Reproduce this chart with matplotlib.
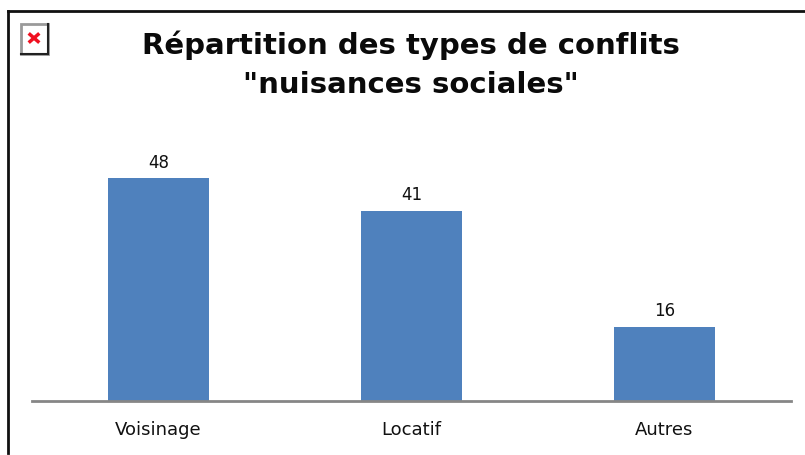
import matplotlib
matplotlib.use('Agg')
import matplotlib.pyplot as plt
from matplotlib.patches import Rectangle
from matplotlib.lines import Line2D

categories = ['Voisinage', 'Locatif', 'Autres']
values = [48, 41, 16]
title = 'Répartition des types de conflits\n"nuisances sociales"'

W, H = 805, 455
plt.rcParams['font.family'] = ['DejaVu Sans']
fig = plt.figure(figsize=(W / 100, H / 100), dpi=100)

# Plot area in pixels from the reference
ax = fig.add_axes([32 / W, 1 - 400.5 / H, (791 - 32) / W, 277.5 / H])
bars = ax.bar(categories, values, width=0.403, color='#4f81bd')
ax.set_xlim(-0.5, 2.5)
ax.set_ylim(0, 60)
ax.bar_label(bars, padding=5, fontsize=12, color='#111111')

for side in ['top', 'left', 'right']:
    ax.spines[side].set_visible(False)
ax.spines['bottom'].set_color('#868686')
ax.spines['bottom'].set_linewidth(2)
ax.set_yticks([])
ax.tick_params(axis='x', length=0, pad=15, labelsize=13, labelcolor='#111111')

fig.text(411 / W, 1 - 65 / H, title, ha='center', va='center', fontsize=21,
         fontweight='bold', color='#0a0a0a', linespacing=1.5)


def px(x0, y0, x1, y1, **kw):
    # line given in reference pixels
    fig.add_artist(Line2D([x0 / W, x1 / W], [1 - y0 / H, 1 - y1 / H], **kw))


# Outer frame, only left and top are visible
px(7.5, 11, 805, 11, color='#111111', lw=2)
px(7.5, 11, 7.5, 453, color='#111111', lw=2)

# Broken image icon
fig.add_artist(Rectangle((20.5 / W, 1 - 54 / H), 27 / W, 30 / H, facecolor='white',
                         edgecolor='#9a9a9a', lw=2))
px(30, 34.5, 38, 41.5, color='#f01020', lw=2.5)
px(38, 34.5, 30, 41.5, color='#f01020', lw=2.5)
px(21, 54, 48, 54, color='#222222', lw=1.5)
px(47.5, 24, 47.5, 54, color='#222222', lw=1.5)

fig.savefig('out.png', dpi=100)
